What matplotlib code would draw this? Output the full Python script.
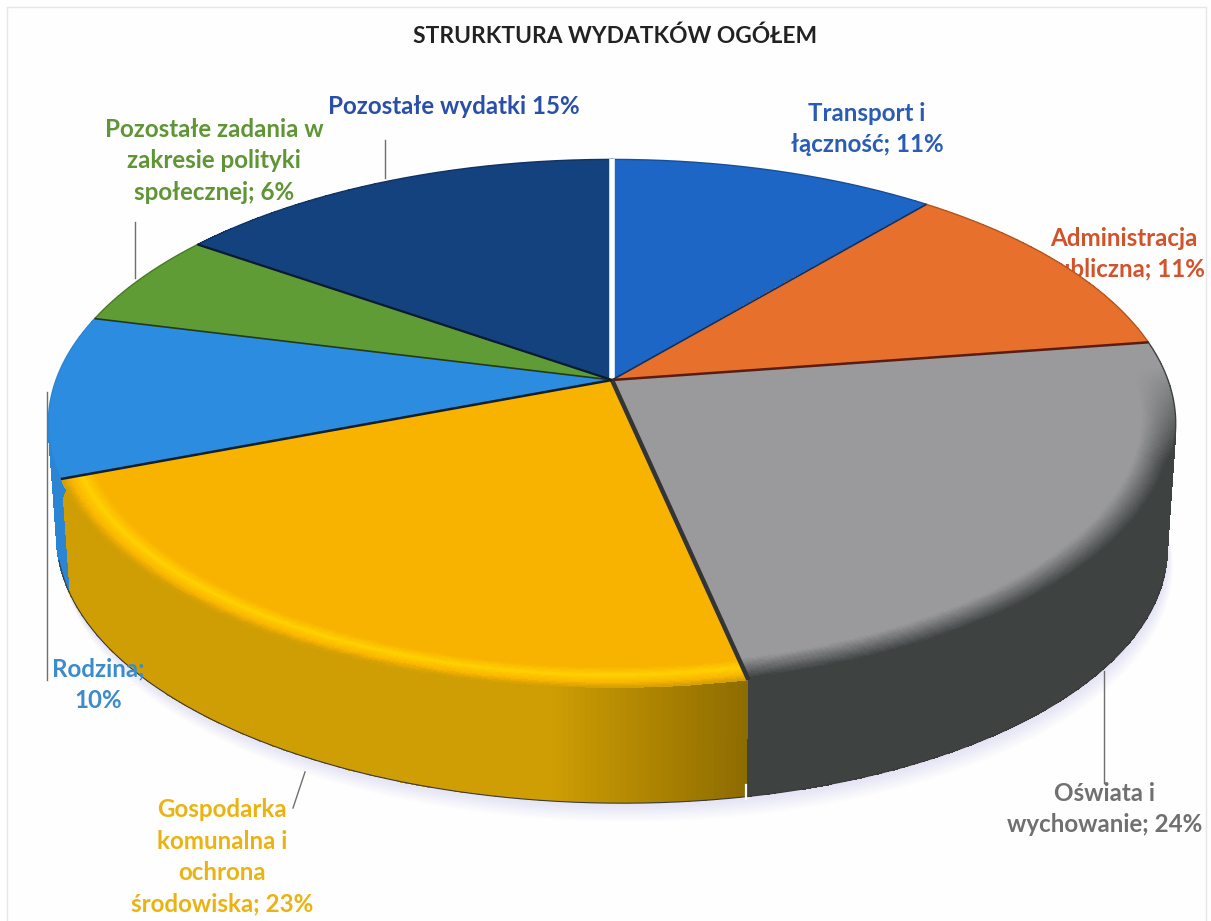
import numpy as np
import matplotlib
matplotlib.use('Agg')
import matplotlib.pyplot as plt
from matplotlib.colors import to_rgb

# slices clockwise from 12 o'clock
categories = ['Transport i łączność', 'Administracja publiczna', 'Oświata i wychowanie',
              'Gospodarka komunalna i ochrona środowiska', 'Rodzina',
              'Pozostałe zadania w zakresie polityki społecznej', 'Pozostałe wydatki']
percents = [11, 11, 24, 23, 10, 6, 15]
# share of the circle as actually drawn (the 3D view distorts them)
shares = [11.0, 11.6, 24.1, 22.4, 9.9, 5.8, 15.2]
face_colors = ['#1E66C6', '#E8702D', '#9A9A9C', '#F8B300', '#2C8DE0', '#5F9C36', '#14427F']
side_colors = ['#174F9A', '#B5561F', '#3E4241', '#CF9E04', '#2A86D2', '#4A7A2A', '#0F3362']
text_colors = ['#2A5CB4', '#D2532B', '#707070', '#EBB312', '#3C8BCB', '#5F9535', '#2A4FA8']
label_text = ['Transport i\nłączność; 11%', 'Administracja\npubliczna; 11%', 'Oświata i\nwychowanie; 24%',
              'Gospodarka\nkomunalna i\nochrona\nśrodowiska; 23%', 'Rodzina;\n10%',
              'Pozostałe zadania w\nzakresie polityki\nspołecznej; 6%', 'Pozostałe wydatki 15%']
label_pos = [(867, 129), (1124, 254), (1105, 809), (222, 857), (98, 685), (214, 161), (454, 107)]
title = 'STRURKTURA WYDATKÓW OGÓŁEM'

# view of the disc, in pixels
cx, cy = 612, 380
A, B, k = 257, 556, 0.165
shrink, drop, tilt = 0.985, 120, 6


def project(theta, r=1.0, lower=False):
    u, v = r * np.sin(theta), r * np.cos(theta)
    s = 1 / (1 + k * v)
    x, y = B * u * s, -A * v * s
    if lower:
        return cx + shrink * x, cy + shrink * y + drop + tilt * u
    return cx + x, cy + y


def blend(a, b, t):
    t = np.clip(t, 0, 1)[..., None]
    return np.array(to_rgb(a)) * (1 - t) + np.array(to_rgb(b)) * t


plt.rcParams['font.family'] = ['Lato', 'DejaVu Sans']
fig = plt.figure(figsize=(12.11, 9.21), dpi=100, facecolor='#FEFEFE')
ax = fig.add_axes([0, 0, 1, 1])
ax.set_axis_off()

edges = np.radians(np.concatenate([[0], np.cumsum(shares)]) * 3.6)

# page frame of the scan
ax.plot([7, 7, 1206, 1206], [921, 7, 7, 921], color='#E6E6E6', lw=1, zorder=0)

# labels sitting behind the pie
for i, (txt, pos) in enumerate(zip(label_text, label_pos)):
    ax.text(pos[0], pos[1], txt, color=text_colors[i], fontsize=17.4, fontweight='bold',
            ha='center', va='center', linespacing=1.44, zorder=1 if i == 1 else 8)
ax.text(615, 36, title, color='#222222', fontsize=16.4, fontweight='bold', ha='center', va='center')

# soft shadow under the front edge
t = np.linspace(np.radians(75), np.radians(265), 200)
for off in range(2, 20, 2):
    xs, ys = project(t, lower=True)
    ax.fill(xs + off * 0.3, ys + off, color='#B9B9E6', alpha=0.045, lw=0, zorder=2)

# side wall, only the front part can be seen
for i in range(len(shares)):
    t0, t1 = edges[i], edges[i + 1]
    if np.cos(t0) > 0.3 and np.cos(t1) > 0.3:
        continue
    t = np.linspace(t0, t1, 160)
    xu, yu = project(t)
    xl, yl = project(t, lower=True)
    X = np.vstack([xu, xl])
    Y = np.vstack([yu, yl])
    tm = (t[:-1] + t[1:]) / 2
    # wall goes darker towards the gold/grey corner
    if i == 3:
        rgb = blend('#8C6B00', side_colors[i], (tm - t0) / 0.3)
    else:
        rgb = blend(side_colors[i], side_colors[i], tm * 0)
    ax.pcolormesh(X, Y, rgb[None, :, :], zorder=3)
    low = np.cos(t) < -0.25
    ax.plot(xl[low], yl[low], color='#3A3A3A', lw=0.8, zorder=3.2)

# top face with the bevel along the front rim
rs = np.concatenate([np.linspace(0, 0.9, 8), np.linspace(0.91, 1.0, 28)])
for i in range(len(shares)):
    t = np.linspace(edges[i], edges[i + 1], 160)
    T, R = np.meshgrid(t, rs)
    X, Y = project(T, R)
    tm = (t[:-1] + t[1:]) / 2
    rm = (rs[:-1] + rs[1:]) / 2
    TM, RM = np.meshgrid(tm, rm)
    front = np.clip((0.05 - np.cos(TM)) / 0.35, 0, 1)
    if i == 2:
        rgb = blend(face_colors[i], side_colors[i], front * ((RM - 0.94) / 0.055))
    elif i == 3:
        bright = np.clip(1 - np.abs(RM - 0.965) / 0.022, 0, 1) * front
        rgb = blend(face_colors[i], '#FFD000', bright)
        rgb = rgb * (1 - (np.clip((RM - 0.985) / 0.015, 0, 1) * front)[..., None]) \
            + np.array(to_rgb(side_colors[i])) * (np.clip((RM - 0.985) / 0.015, 0, 1) * front)[..., None]
    else:
        rgb = blend(face_colors[i], face_colors[i], RM * 0)
    ax.pcolormesh(X, Y, rgb, zorder=4)
    xs, ys = project(t)
    if np.cos(t).max() > 0.05:
        ax.plot(xs, ys, color=side_colors[i], lw=1, zorder=4.5)

# slice borders: white at 12 o'clock, heavy between gold and grey, thin elsewhere
border_colors = ['#FFFFFF', '#12305E', '#5A1D10', '#333535', '#10202E', '#1E3A22', '#0A1A30']
border_widths = [4, 1.2, 1.8, 3.2, 1.8, 1.2, 1.6]
for e, c, w in zip(edges[:-1], border_colors, border_widths):
    x1, y1 = project(e)
    ax.plot([cx, x1], [cy, y1], color=c, lw=w, zorder=5, solid_capstyle='butt')

# thin light notch at the foot of the gold/grey corner
xb, yb = project(edges[3], lower=True)
ax.plot([xb, xb], [yb - 12, yb + 2], color='#FFFFFF', lw=1.6, zorder=6)

# leader lines
leaders = [([385, 385], [140, 178]), ([135, 135], [222, 278]), ([47, 47], [392, 680]),
           ([305, 293], [772, 808]), ([1104, 1104], [671, 783])]
for lx, ly in leaders:
    ax.plot(lx, ly, color='#6F6F6F', lw=1, zorder=2.5)

ax.set_xlim(0, 1211)
ax.set_ylim(921, 0)
fig.savefig('out.png', dpi=100, facecolor=fig.get_facecolor())
